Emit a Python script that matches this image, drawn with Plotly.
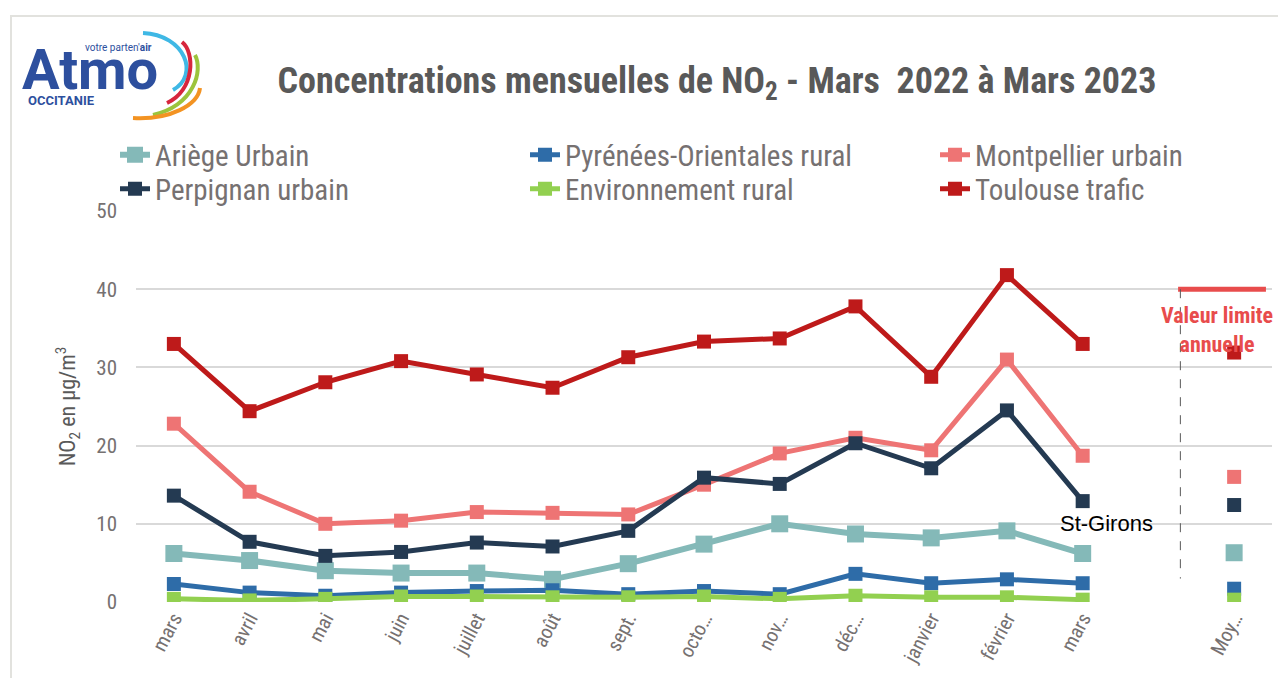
import plotly.graph_objects as go

# ---------------- data ----------------
mois = ["mars", "avril", "mai", "juin", "juillet", "août", "sept.", "octo…",
        "nov…", "déc…", "janvier", "février", "mars"]
label_moyenne = "Moy…"

ariege_urbain = [6.2, 5.3, 4.0, 3.7, 3.7, 2.9, 4.9, 7.4, 10.0, 8.7, 8.2, 9.1, 6.2]
pyrenees_or_rural = [2.3, 1.2, 0.8, 1.2, 1.4, 1.5, 1.0, 1.4, 1.0, 3.6, 2.4, 2.9, 2.4]
montpellier_urbain = [22.8, 14.1, 10.0, 10.4, 11.5, 11.4, 11.2, 15.0, 19.0, 21.0, 19.4, 31.0, 18.7]
perpignan_urbain = [13.6, 7.7, 5.9, 6.4, 7.6, 7.1, 9.1, 15.9, 15.1, 20.3, 17.1, 24.5, 12.9]
environnement_rural = [0.4, 0.2, 0.4, 0.7, 0.7, 0.6, 0.6, 0.7, 0.4, 0.8, 0.6, 0.6, 0.3]
toulouse_trafic = [33.0, 24.4, 28.1, 30.8, 29.1, 27.4, 31.3, 33.3, 33.7, 37.8, 28.8, 41.8, 33.0]

noms = ["Ariège Urbain", "Pyrénées-Orientales rural", "Montpellier urbain",
        "Perpignan urbain", "Environnement rural", "Toulouse trafic"]
moyennes = [6.3, 1.7, 16.0, 12.4, 0.3, 31.9]
valeur_limite = 40

# ---------------- styles ----------------
series = [ariege_urbain, pyrenees_or_rural, montpellier_urbain,
          perpignan_urbain, environnement_rural, toulouse_trafic]
couleurs = ["#84b9b8", "#2e6ca8", "#ee7474", "#243a52", "#92d050", "#be1a1a"]
tailles = [17, 14, 14, 14, 14, 14]
largeurs = [6, 5, 5, 5, 5, 5]
# legend positions (page pixels): left x, centre y
leg_pos = [(115, 155), (525, 155), (935, 155), (115, 189), (525, 189), (935, 189)]

OFF = 8  # page body margin
W, H = 1286 - OFF, 678 - OFF
ML, MR, MT, MB = 136 - OFF, 14, 211 - OFF, 76
PW, PH = W - ML - MR, H - MT - MB
COND = "Liberation Sans Narrow, Arial Narrow, Roboto Condensed, sans-serif"


def px2paper(px, py):
    """page pixel -> paper coordinates"""
    px, py = px - OFF, py - OFF
    return (px - ML) / PW, (H - MB - py) / PH


x_mois = list(range(len(mois)))
x_moy = len(mois) + 1
tickvals = x_mois + [x_moy]
ticktext = mois + [label_moyenne]

fig = go.Figure()
for i, (nom, vals) in enumerate(zip(noms, series)):
    lg = "legend" if i == 0 else f"legend{i + 1}"
    fig.add_trace(go.Scatter(
        x=x_mois, y=vals, name=nom, mode="lines+markers",
        line=dict(color=couleurs[i], width=largeurs[i]),
        marker=dict(symbol="square", size=tailles[i], color=couleurs[i]),
        legend=lg, hoverinfo="x+y+name"))
    fig.add_trace(go.Scatter(
        x=[x_moy], y=[moyennes[i]], name=nom, mode="markers",
        marker=dict(symbol="square", size=tailles[i], color=couleurs[i]),
        showlegend=False, legend=lg))

# legends (one per entry to reproduce 2x3 grid)
for i in range(6):
    key = "legend" if i == 0 else f"legend{i + 1}"
    lx, ly = px2paper(*leg_pos[i])
    fig.update_layout(**{key: dict(
        x=lx, y=ly, xanchor="left", yanchor="middle", xref="paper", yref="paper",
        bgcolor="rgba(0,0,0,0)", font=dict(family=COND, size=29, color="#767171"),
        itemwidth=30)})

# limit value line and annotations
fig.add_shape(type="line", xref="x", yref="y", x0=13.26, x1=14.42,
              y0=valeur_limite, y1=valeur_limite,
              line=dict(color="#e84c4c", width=5))
fig.add_shape(type="line", xref="x", yref="y", x0=13.29, x1=13.29,
              y0=valeur_limite, y1=3.0,
              line=dict(color="#595959", width=1, dash="dash"))
fig.add_annotation(x=13.77, y=34.8, xref="x", yref="y", showarrow=False,
                   text="<b>Valeur limite<br>annuelle</b>",
                   font=dict(family=COND, size=22, color="#e84c4c"))
fig.add_annotation(x=12.32, y=10.1, xref="x", yref="y", showarrow=False,
                   text="St-Girons",
                   font=dict(family="Liberation Sans, Arial, sans-serif", size=22, color="#000000"))

# frame lines
for (x0, y0, x1, y1) in [(10, 16, 1286, 16), (11, 16, 11, 678)]:
    a, b = px2paper(x0, y0)
    c, d = px2paper(x1, y1)
    fig.add_shape(type="line", xref="paper", yref="paper", x0=a, y0=b, x1=c, y1=d,
                  line=dict(color="#e2e2de", width=2), layer="below")

# logo arcs (cubic curves, page pixels)
arcs = [((143, 33), (185, 35), (200, 75), (173, 90), "#3fb8e5"),
        ((182, 42), (195, 52), (195, 90), (167, 103), "#d7263d"),
        ((195, 55), (203, 70), (195, 105), (153, 115), "#9cc43c"),
        ((200, 88), (198, 105), (170, 120), (133, 118), "#f39322")]
for s, c1, c2, e, col in arcs:
    p = [px2paper(*q) for q in (s, c1, c2, e)]
    path = (f"M {p[0][0]},{p[0][1]} C {p[1][0]},{p[1][1]} "
            f"{p[2][0]},{p[2][1]} {p[3][0]},{p[3][1]}")
    fig.add_shape(type="path", xref="paper", yref="paper", path=path,
                  line=dict(color=col, width=4))
ax, ay = px2paper(90, 70)
fig.add_annotation(x=ax, y=ay, xref="paper", yref="paper", showarrow=False,
                   text="<b>Atmo</b>", xanchor="center", yanchor="middle",
                   font=dict(family="Roboto, sans-serif", size=56, color="#2d4f9e"))
vx, vy = px2paper(118, 47)
fig.add_annotation(x=vx, y=vy, xref="paper", yref="paper", showarrow=False,
                   text="votre parten'<b>air</b>", xanchor="center", yanchor="middle",
                   font=dict(family="Roboto, sans-serif", size=10, color="#2d4f9e"))
ox, oy = px2paper(61, 100)
fig.add_annotation(x=ox, y=oy, xref="paper", yref="paper", showarrow=False,
                   text="<b>OCCITANIE</b>", xanchor="center", yanchor="middle",
                   font=dict(family="Roboto, sans-serif", size=13, color="#2d4f9e"))

fig.update_layout(
    width=W, height=H,
    margin=dict(l=ML, r=MR, t=MT, b=MB),
    paper_bgcolor="white", plot_bgcolor="white",
    title=dict(text="<b>Concentrations mensuelles de NO<sub>2</sub> - Mars  2022 à Mars 2023</b>",
               x=(717 - OFF) / W, y=1 - (80 - OFF) / H, xanchor="center", yanchor="middle",
               font=dict(family=COND, size=36, color="#595959")),
    xaxis=dict(range=[-0.5, 14.5], tickvals=tickvals, ticktext=ticktext,
               tickangle=-62, showgrid=False, zeroline=False, showline=False,
               tickfont=dict(family=COND, size=20, color="#767171")),
    yaxis=dict(range=[0, 50], dtick=10, showgrid=True, gridcolor="#d9d9d9",
               gridwidth=2, zeroline=False, showline=False,
               ticklabelstandoff=18,
               tickfont=dict(family=COND, size=21, color="#767171"),
               title=dict(text="NO<sub>2</sub> en µg/m<sup>3</sup>", standoff=14,
                          font=dict(family=COND, size=22, color="#595959"))),
    showlegend=True,
)

fig.write_html("out.html")
